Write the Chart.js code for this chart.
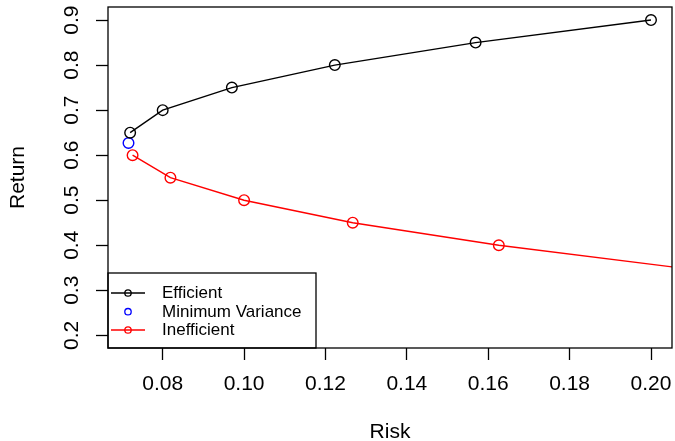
<!DOCTYPE html>
<html>
<head>
<meta charset="utf-8">
<script src="https://cdn.jsdelivr.net/npm/chart.js@4.4.1/dist/chart.umd.min.js"></script>
<style>
  html, body { margin: 0; padding: 0; background: #fff; }
  #wrap { width: 675px; height: 441px; position: relative; }
</style>
</head>
<body>
<div id="wrap"><canvas id="frontier"></canvas></div>
<script>
// --- data ---
const effRisk = [0.0720, 0.0800, 0.0970, 0.1223, 0.1569, 0.2000];
const effReturn = [0.65, 0.70, 0.75, 0.80, 0.85, 0.90];
const minVarRisk = [0.0716];
const minVarReturn = [0.627];
const ineffRisk = [0.0726, 0.0819, 0.1000, 0.1267, 0.1626, 0.2068];
const ineffReturn = [0.60, 0.55, 0.50, 0.45, 0.40, 0.35];

const xTicks = [0.08, 0.10, 0.12, 0.14, 0.16, 0.18, 0.20];
const yTicks = [0.2, 0.3, 0.4, 0.5, 0.6, 0.7, 0.8, 0.9];
const legendLabels = ['Efficient', 'Minimum Variance', 'Inefficient'];

const FONT = '"Liberation Sans", Arial, Helvetica, sans-serif';
const PLOT_RIGHT = 672;

function pts(xs, ys) {
    return xs.map((x, i) => ({ x: x, y: ys[i] }));
}

// R style box, rotated y labels, titles and legend
const rStyle = {
    id: 'rStyle',
    afterLayout(chart) {
        // stretch the plot region to the right edge like R does
        const a = chart.chartArea;
        a.right = PLOT_RIGHT;
        a.width = a.right - a.left;
        const xs = chart.scales.x;
        xs.right = PLOT_RIGHT;
        xs.width = xs.right - xs.left;
        xs.configure();
    },
    afterDatasetsDraw(chart) {
        const ctx = chart.ctx;
        const a = chart.chartArea;
        const ys = chart.scales.y;
        ctx.save();

        // legend box
        const lx = a.left, ly = 273, lw = 316 - a.left, lh = a.bottom - 273;
        ctx.fillStyle = '#fff';
        ctx.fillRect(lx, ly, lw, lh);
        ctx.strokeStyle = '#000';
        ctx.lineWidth = 1.3;
        ctx.strokeRect(lx, ly, lw, lh);

        const rows = [293, 311.7, 330];
        const cols = ['#000000', '#0000ff', '#ff0000'];
        rows.forEach((ry, i) => {
            ctx.strokeStyle = cols[i];
            ctx.lineWidth = 1.3;
            if (i !== 1) {
                ctx.beginPath();
                ctx.moveTo(111, ry);
                ctx.lineTo(145, ry);
                ctx.stroke();
            }
            ctx.beginPath();
            ctx.arc(128, ry, 3.2, 0, Math.PI * 2);
            ctx.stroke();
            ctx.fillStyle = '#000';
            ctx.font = '17px ' + FONT;
            ctx.textAlign = 'left';
            ctx.textBaseline = 'alphabetic';
            ctx.fillText(legendLabels[i], 162, ry + 5);
        });

        // plot box
        ctx.strokeStyle = '#000';
        ctx.lineWidth = 1.3;
        ctx.strokeRect(a.left, a.top, a.right - a.left, a.bottom - a.top);

        // rotated y tick labels
        ctx.fillStyle = '#000';
        ctx.font = '21px ' + FONT;
        ctx.textAlign = 'center';
        ctx.textBaseline = 'alphabetic';
        yTicks.forEach(v => {
            const py = ys.getPixelForValue(v);
            ctx.save();
            ctx.translate(78, py);
            ctx.rotate(-Math.PI / 2);
            ctx.fillText(v.toFixed(1), 0, 0);
            ctx.restore();
        });

        // axis titles
        ctx.save();
        ctx.translate(23.5, (a.top + a.bottom) / 2);
        ctx.rotate(-Math.PI / 2);
        ctx.fillText('Return', 0, 0);
        ctx.restore();
        ctx.fillText('Risk', (a.left + a.right) / 2, 438);

        ctx.restore();
    }
};

new Chart(document.getElementById('frontier'), {
    type: 'line',
    data: {
        datasets: [
            {
                label: legendLabels[0],
                data: pts(effRisk, effReturn),
                borderColor: '#000000',
                borderWidth: 1.4,
                pointRadius: 5.3,
                pointBorderWidth: 1.4,
                pointBorderColor: '#000000',
                pointBackgroundColor: 'rgba(0,0,0,0)',
                tension: 0,
                clip: 0
            },
            {
                label: legendLabels[1],
                data: pts(minVarRisk, minVarReturn),
                showLine: false,
                borderColor: '#0000ff',
                pointRadius: 5.3,
                pointBorderWidth: 1.4,
                pointBorderColor: '#0000ff',
                pointBackgroundColor: 'rgba(0,0,0,0)',
                clip: 0
            },
            {
                label: legendLabels[2],
                data: pts(ineffRisk, ineffReturn),
                borderColor: '#ff0000',
                borderWidth: 1.4,
                pointRadius: 5.3,
                pointBorderWidth: 1.4,
                pointBorderColor: '#ff0000',
                pointBackgroundColor: 'rgba(0,0,0,0)',
                tension: 0,
                clip: 0
            }
        ]
    },
    options: {
        responsive: true,
        maintainAspectRatio: false,
        animation: false,
        layout: { padding: { top: 7, right: 3, left: 0, bottom: 0 } },
        plugins: {
            legend: { display: false },
            tooltip: { enabled: false }
        },
        scales: {
            x: {
                type: 'linear',
                min: 0.06656,
                max: 0.20516,
                afterBuildTicks: s => { s.ticks = xTicks.map(v => ({ value: v })); },
                afterFit: s => { s.height = 93; s.paddingLeft = 0; s.paddingRight = 0; },
                border: { display: false },
                grid: {
                    drawOnChartArea: false,
                    drawTicks: true,
                    tickLength: 12,
                    tickWidth: 1.3,
                    tickColor: '#000'
                },
                ticks: {
                    color: '#000',
                    padding: 12,
                    maxRotation: 0,
                    autoSkip: false,
                    font: { family: FONT, size: 21 },
                    callback: v => v.toFixed(2)
                }
            },
            y: {
                type: 'linear',
                min: 0.1718,
                max: 0.929,
                afterBuildTicks: s => { s.ticks = yTicks.map(v => ({ value: v })); },
                afterFit: s => { s.width = 108; s.paddingTop = 0; s.paddingBottom = 0; },
                border: { display: false },
                grid: {
                    drawOnChartArea: false,
                    drawTicks: true,
                    tickLength: 12,
                    tickWidth: 1.3,
                    tickColor: '#000'
                },
                ticks: { display: false }
            }
        }
    },
    plugins: [rStyle]
});
</script>
</body>
</html>
